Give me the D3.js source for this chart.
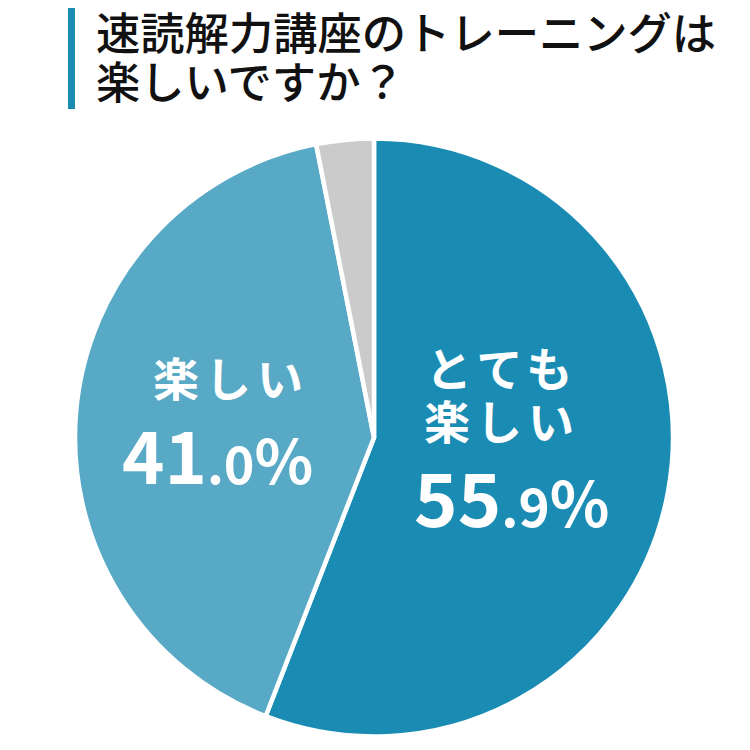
<!DOCTYPE html>
<html><head><meta charset="utf-8">
<script src="https://cdn.jsdelivr.net/npm/d3@7"></script>
<style>html,body{margin:0;padding:0;background:#fff;}svg{display:block;}</style>
</head><body>
<svg id="chart" width="750" height="750"></svg>
<script>
const titleLines = ["速読解力講座のトレーニングは", "楽しいですか？"];
const categories = ["とても楽しい", "楽しい", "その他"];
const values = [55.9, 41.0, 3.1];
const labelLines = [["とても", "楽しい"], ["楽しい"], []];
const colors = ["#1a8cb4", "#58a9c5", "#cbcbcb"];

const svg = d3.select("#chart");
const font = "'Noto Sans CJK JP','Noto Sans',sans-serif";

// title
svg.append("rect").attr("x", 68).attr("y", 8).attr("width", 7).attr("height", 101).attr("fill", "#1a8cb4");
svg.selectAll("text.title").data(titleLines).join("text")
  .attr("class", "title")
  .attr("x", 96).attr("y", (d, i) => 50 + i * 49)
  .attr("font-family", font).attr("font-size", 44.3).attr("font-weight", 500)
  .attr("fill", "#111").text(d => d);

const cx = 374, cy = 437.5, R = 299;
const g = svg.append("g").attr("transform", `translate(${cx},${cy})`);
const pie = d3.pie().sort(null).value(d => d)(values);
const arc = d3.arc().innerRadius(0).outerRadius(R);
g.selectAll("path").data(pie).join("path")
  .attr("d", arc).attr("fill", (d, i) => colors[i])
  .attr("stroke", "#fff").attr("stroke-width", 4.5).attr("stroke-linejoin", "miter");

// labels
const labelPos = [
  {x: 499, ys: [386, 439], px: 414, py: 527, big: 74, small: 53, pct: 62},
  {x: 228, ys: [396], px: 122, py: 484, big: 72, small: 52, pct: 61}
];
labelPos.forEach((p, i) => {
  labelLines[i].forEach((line, j) => {
    svg.append("text").attr("x", p.x + 3).attr("y", p.ys[j])
      .attr("text-anchor", "middle")
      .attr("font-family", font).attr("font-size", 46).attr("font-weight", 700)
      .attr("letter-spacing", 6).attr("fill", "#fff").text(line);
  });
  const s = values[i].toFixed(1);
  const intPart = s.split(".")[0], decPart = "." + s.split(".")[1];
  const t = svg.append("text").attr("x", p.px).attr("y", p.py)
    .attr("font-family", font).attr("font-weight", 700).attr("fill", "#fff");
  t.append("tspan").attr("font-size", p.big).text(intPart);
  t.append("tspan").attr("font-size", p.small).text(decPart);
  t.append("tspan").attr("font-size", p.pct).text("%");
});
</script>
</body></html>
